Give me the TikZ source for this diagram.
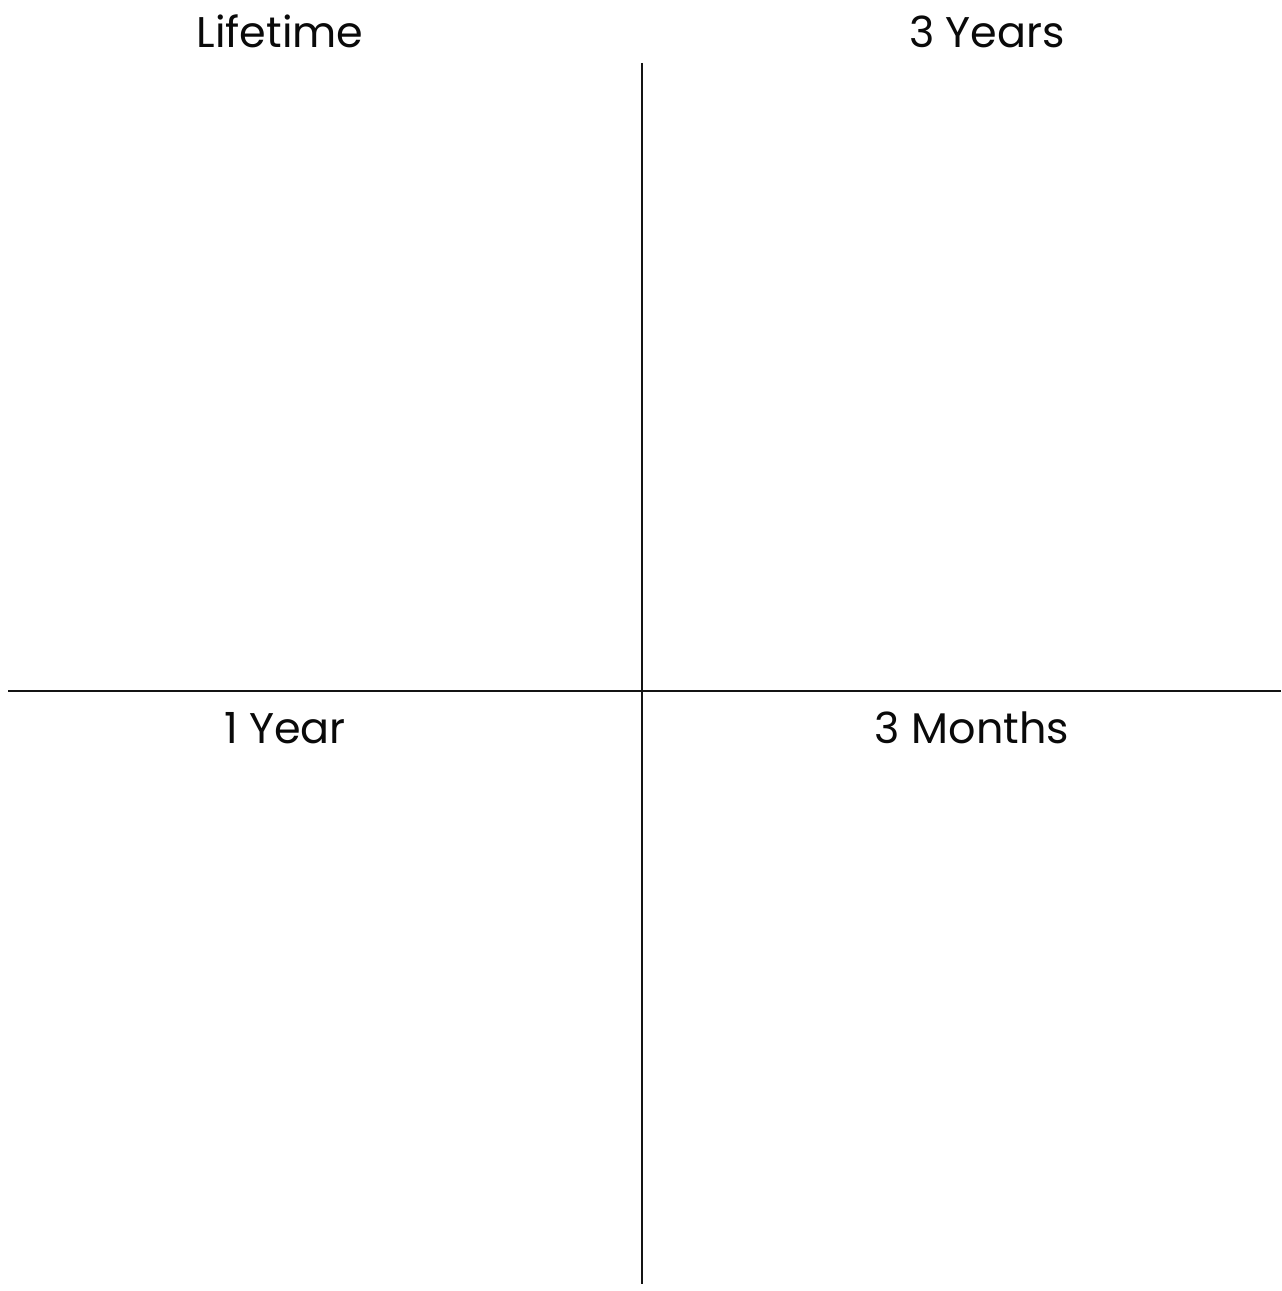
\documentclass[tikz,border=0pt]{standalone}
\usepackage{fontspec}
\setmainfont{Poppins}
\usepackage{xcolor}
\usetikzlibrary{positioning}
\definecolor{qline}{RGB}{20,20,20}
\definecolor{qtext}{RGB}{10,10,10}

\begin{document}
\begin{tikzpicture}[x=0.01cm,y=-0.01cm,
    quadline/.style={qline, line width=0.75pt},
    quadlabel/.style={text=qtext, anchor=base, inner sep=0pt, font=\fontsize{12.2}{14}\selectfont}]
    \useasboundingbox (0,0) rectangle (1281,1291);
    % axes of the grid
    \coordinate (vtop) at (642,63);
    \coordinate (vbot) at (642,1284);
    \coordinate (hleft) at (8,691);
    \coordinate (hright) at (1281,691);
    \draw[quadline] (vtop) -- (vbot);
    \draw[quadline] (hleft) -- (hright);
    % quadrant titles
    \node[quadlabel] (lifetime) at (280,48) {Lifetime};
    \node[quadlabel] (threeyears) at (987,48) {3 Years};
    \node[quadlabel] (oneyear) at (285,743) {1 Year};
    \node[quadlabel] (threemonths) at (972,743) {3 Months};
\end{tikzpicture}
\end{document}
